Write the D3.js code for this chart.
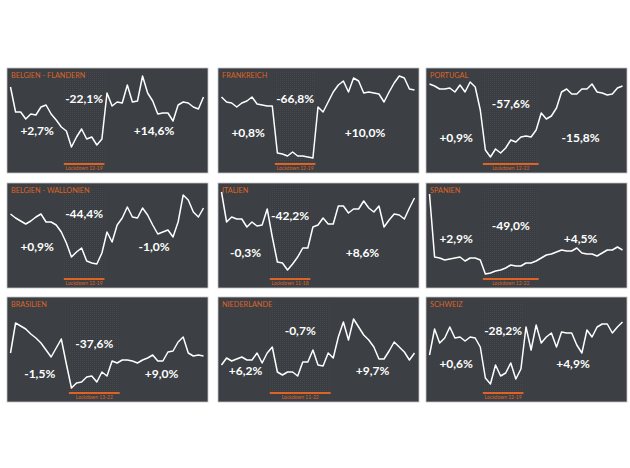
<!DOCTYPE html>
<html lang="de">
<head>
<meta charset="UTF-8">
<title>Lockdown</title>
<style>
  html, body { margin: 0; padding: 0; background: #fff; }
  svg { display: block; font-family: Lato, "Open Sans", sans-serif; }
</style>
</head>
<body>
<svg id="svg" width="630" height="468"></svg>
<script src="https://d3js.org/d3.v7.min.js"></script>
<script>
// regions, lockdown weeks and the three changes (before / during / after)
const regions = ['BELGIEN - FLANDERN', 'FRANKREICH', 'PORTUGAL',
                 'BELGIEN - WALLONIEN', 'ITALIEN', 'SPANIEN',
                 'BRASILIEN', 'NIEDERLANDE', 'SCHWEIZ']
const lockdowns = [[12, 19], [12, 19], [12, 22],
                   [12, 19], [11, 18], [12, 22],
                   [13, 22], [11, 22], [12, 19]]
const changes = [['+2,7%', '-22,1%', '+14,6%'], ['+0,8%', '-66,8%', '+10,0%'], ['+0,9%', '-57,6%', '-15,8%'],
                 ['+0,9%', '-44,4%', '-1,0%'], ['-0,3%', '-42,2%', '+8,6%'], ['+2,9%', '-49,0%', '+4,5%'],
                 ['-1,5%', '-37,6%', '+9,0%'], ['+6,2%', '-0,7%', '+9,7%'], ['+0,6%', '-28,2%', '+4,9%']]
const weeks = d3.range(1, 40)

// weekly index per region (weeks 1-39)
const flandern = [81, 56, 56, 49, 54, 53, 61, 63, 54, 48, 41, 37, 21, 31, 39, 29, 31, 23, 29, 75,
                  62, 66, 65, 83, 66, 67, 92, 75, 67, 54, 55, 55, 47, 63, 66, 65, 61, 59, 71]
const frankreich = [71, 66, 65, 61, 65, 67, 71, 64, 63, 62, 62, 15, 14, 12, 16, 12, 12, 11, 10, 61,
                    56, 66, 76, 83, 87, 76, 90, 87, 75, 76, 75, 74, 66, 76, 85, 92, 90, 79, 78]
const portugal = [84, 82, 79, 79, 80, 76, 83, 76, 86, 81, 58, 18, 11, 19, 15, 20, 28, 26, 31, 32,
                  31, 38, 55, 49, 52, 60, 76, 79, 74, 74, 79, 79, 84, 76, 75, 73, 74, 80, 82]
const wallonien = [69, 65, 62, 59, 62, 66, 69, 61, 61, 58, 51, 40, 26, 31, 35, 22, 20, 19, 30, 51,
                   41, 58, 65, 76, 66, 65, 75, 68, 58, 49, 51, 53, 46, 61, 88, 83, 71, 66, 75]
const italien = [91, 61, 66, 64, 64, 56, 61, 57, 58, 74, 46, 21, 20, 13, 19, 26, 35, 35, 56, 58,
                 65, 59, 59, 77, 77, 70, 74, 74, 82, 75, 71, 77, 56, 63, 69, 68, 64, 75, 85]
const spanien = [89, 26, 25, 23, 24, 25, 26, 22, 25, 25, 23, 9, 10, 12, 13, 15, 18, 17, 17, 20,
                 20, 22, 25, 28, 29, 31, 33, 32, 32, 35, 30, 29, 29, 27, 30, 33, 33, 36, 33]
const brasilien = [44, 74, 71, 68, 63, 59, 54, 47, 40, 49, 58, 33, 9, 14, 15, 20, 21, 15, 25, 21,
                   36, 34, 37, 37, 36, 34, 37, 39, 42, 36, 36, 45, 46, 55, 60, 44, 41, 42, 41]
const niederlande = [32, 39, 36, 38, 40, 37, 37, 44, 34, 44, 50, 25, 22, 25, 25, 21, 35, 35, 47, 32,
                     31, 44, 39, 60, 75, 57, 78, 70, 62, 57, 50, 38, 38, 46, 55, 50, 45, 37, 44]
const schweiz = [42, 68, 54, 59, 70, 59, 60, 56, 60, 59, 50, 19, 13, 32, 21, 24, 34, 18, 28, 70,
                 47, 72, 54, 60, 64, 50, 65, 64, 64, 52, 44, 67, 60, 70, 73, 73, 64, 70, 75]
const series = [flandern, frankreich, portugal, wallonien, italien, spanien, brasilien, niederlande, schweiz]

// layout
const colX = [7, 218, 426]
const rowY = [68, 183, 297]
const pw = 201, ph = 105
// baseline of [during, before/after] labels below panel top
const labelDrop = [[35, 67], [35, 69], [40, 74],
                   [35, 68], [37, 74], [47, 60],
                   [51, 81], [38, 78], [38, 71]]
const orange = '#de6426'

const svg = d3.select('#svg')

const defs = svg.append('defs')
const pattern = defs.append('pattern')
    .attr('id', 'dots')
    .attr('width', 2).attr('height', 2)
    .attr('patternUnits', 'userSpaceOnUse')
pattern.append('rect').attr('width', 2).attr('height', 2).attr('fill', '#3a3d41')
pattern.append('rect').attr('width', 1).attr('height', 1).attr('fill', '#45484c')

regions.forEach((name, i) => {
    const px = colX[i % 3]
    const py = rowY[Math.floor(i / 3)]
    const [start, end] = lockdowns[i]

    const x = d3.scaleLinear().domain([1, 39]).range([px + 3.5, px + pw - 4.5])
    const y = d3.scaleLinear().domain([0, 100]).range([py + 100, py])

    const g = svg.append('g')

    g.append('rect')
        .attr('x', px).attr('y', py)
        .attr('width', pw).attr('height', ph)
        .attr('fill', '#3c3f43')
        .attr('stroke', '#c4c4c4')
        .attr('stroke-width', 0.8)

    // lockdown band
    g.append('rect')
        .attr('x', x(start - 0.5))
        .attr('y', py + 4)
        .attr('width', x(end + 0.5) - x(start - 0.5))
        .attr('height', 92)
        .attr('fill', 'url(#dots)')

    g.append('line')
        .attr('x1', x(start - 0.5)).attr('x2', x(end + 0.5))
        .attr('y1', py + 96).attr('y2', py + 96)
        .attr('stroke', orange)
        .attr('stroke-width', 2)

    g.append('text')
        .attr('x', (x(start - 0.5) + x(end + 0.5)) / 2)
        .attr('y', py + 102)
        .attr('text-anchor', 'middle')
        .attr('fill', orange)
        .style('font-size', '5px')
        .text(`Lockdown ${start}-${end}`)

    g.append('text')
        .attr('x', px + 4)
        .attr('y', py + 9.5)
        .attr('fill', orange)
        .style('font-size', '7.3px')
        .text(name)

    const line = d3.line()
        .x((d, k) => x(weeks[k]))
        .y(d => y(d))

    g.append('path')
        .datum(series[i])
        .attr('d', line)
        .attr('fill', 'none')
        .attr('stroke', '#fff')
        .attr('stroke-width', 1.5)
        .attr('stroke-linejoin', 'round')

    // change labels
    const centres = [(x(1) + x(start - 0.5)) / 2,
                     (x(start - 0.5) + x(end + 0.5)) / 2,
                     (x(end + 0.5) + x(39)) / 2]
    const drops = [labelDrop[i][1], labelDrop[i][0], labelDrop[i][1]]
    g.selectAll('text.change')
        .data(changes[i])
        .enter()
        .append('text')
        .attr('class', 'change')
        .attr('x', (d, k) => centres[k])
        .attr('y', (d, k) => py + drops[k])
        .attr('text-anchor', 'middle')
        .attr('fill', '#fff')
        .style('font-size', '12px')
        .style('font-weight', 'bold')
        .text(d => d)
})
</script>
</body>
</html>
